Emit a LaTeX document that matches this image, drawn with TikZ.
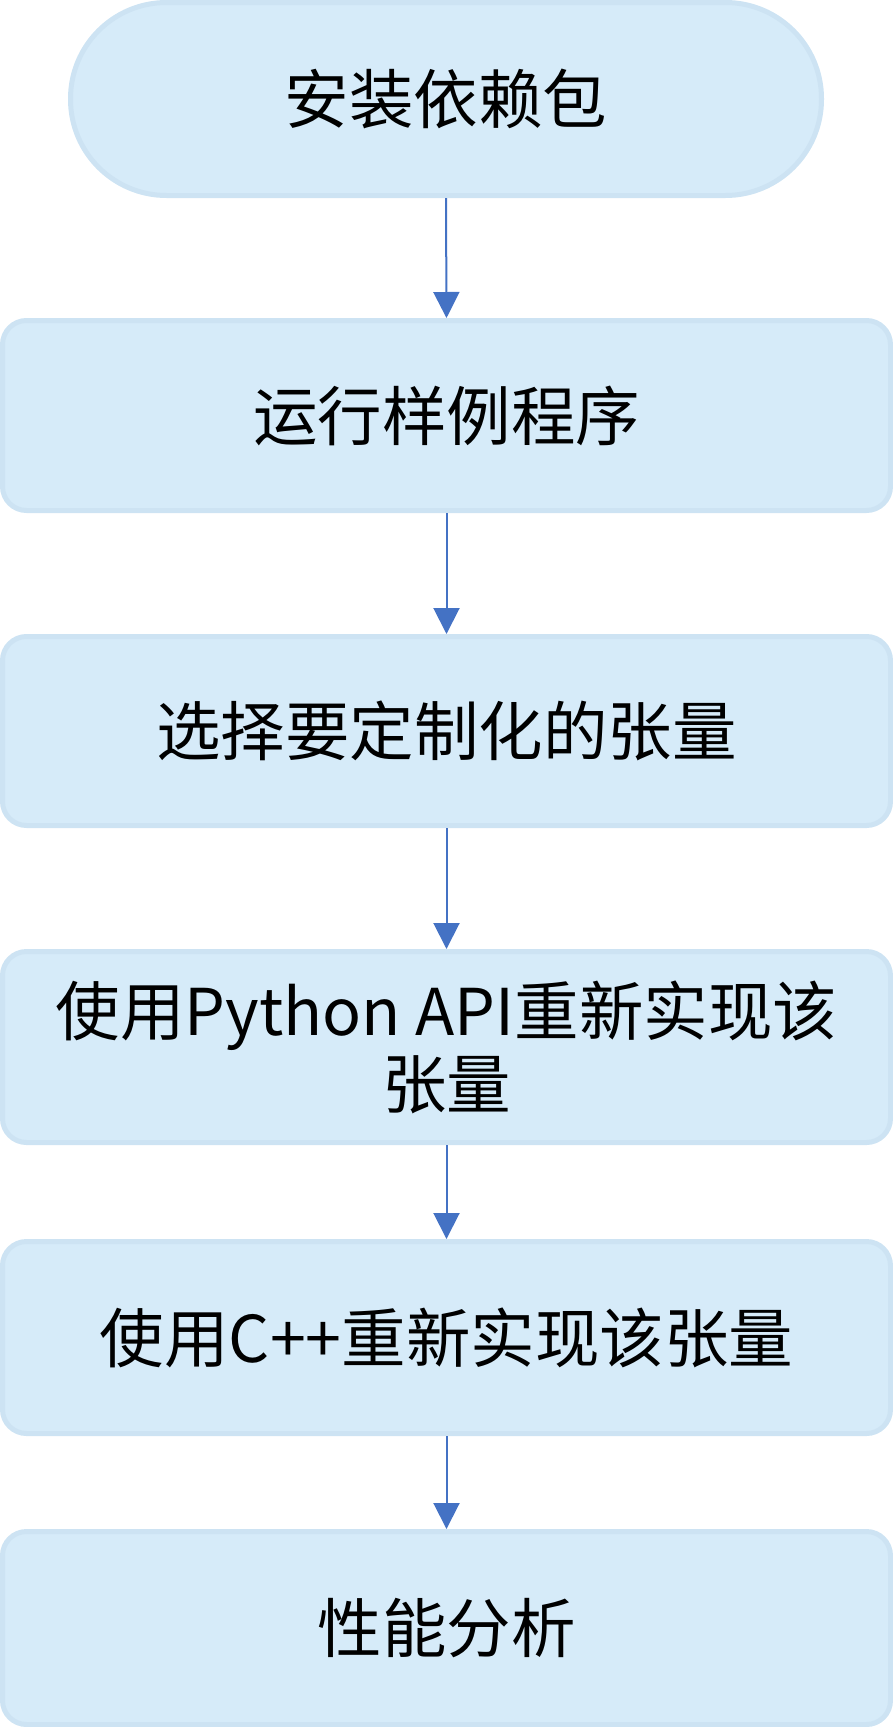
\documentclass[tikz,border=0pt]{standalone}
\usepackage{fontspec}
\newfontfamily\cjk{Noto Sans CJK SC}
\usetikzlibrary{arrows.meta,positioning}
\definecolor{boxfill}{RGB}{214,235,249}
\definecolor{boxline}{RGB}{205,227,243}
\definecolor{arrowblue}{RGB}{68,114,196}
\tikzset{
  stepbox/.style={rectangle, draw=boxline, fill=boxfill, line width=5pt,
    rounded corners=24pt, minimum width=888pt, inner sep=0pt, align=center,
    font=\cjk\fontsize{64.5pt}{73pt}\selectfont},
  startbox/.style={stepbox, minimum width=751pt, minimum height=193pt, rounded corners=96pt},
  flow/.style={draw=arrowblue, line width=2pt, -{Triangle[width=26pt,length=26pt]}, shorten >=0pt}
}
\begin{document}
\begin{tikzpicture}[x=1pt,y=-1pt]
\useasboundingbox (0,0) rectangle (893,1727);
\node[startbox] (n1) at (446,99) {安装依赖包};
\node[stepbox, minimum height=190pt] (n2) at (446.5,415.5) {运行样例程序};
\node[stepbox, minimum height=189pt] (n3) at (446.5,731) {选择要定制化的张量};
\node[stepbox, minimum height=191pt] (n4) at (446.5,1047) {使用Python API重新实现该\\张量};
\node[stepbox, minimum height=192pt] (n5) at (446.5,1337.5) {使用C++重新实现该张量};
\node[stepbox, minimum height=193pt] (n6) at (446.5,1628) {性能分析};
\draw[flow] (n1.south) -- (n2.north);
\draw[flow] (n2.south) -- (n3.north);
\draw[flow] (n3.south) -- (n4.north);
\draw[flow] (n4.south) -- (n5.north);
\draw[flow] (n5.south) -- (n6.north);
\end{tikzpicture}
\end{document}
